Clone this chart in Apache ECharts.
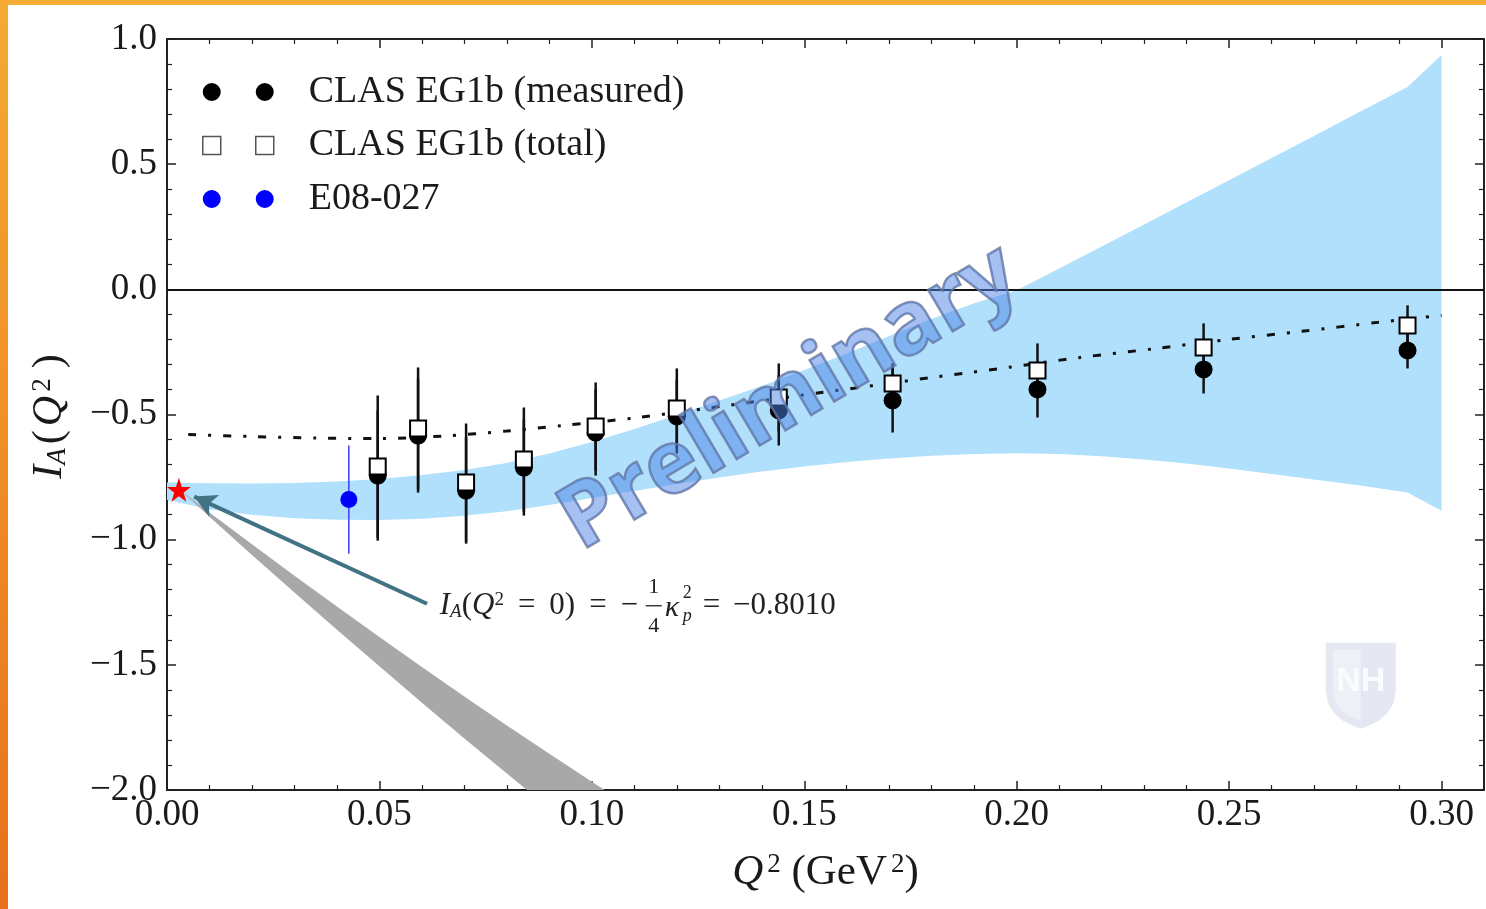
<!DOCTYPE html>
<html><head><meta charset="utf-8">
<script src="https://cdn.jsdelivr.net/npm/echarts/dist/echarts.min.js"></script>
<style>html,body{margin:0;padding:0;background:#fff;overflow:hidden}#c{width:1486px;height:909px}</style>
</head><body><div id="c"></div><script>
// ---------- data ----------
const q2 = [0.0496, 0.0591, 0.0704, 0.0840, 0.1009, 0.1200, 0.1440, 0.1708, 0.2049, 0.2440, 0.2920];
const iaMeasured = [-0.744, -0.584, -0.804, -0.712, -0.572, -0.508, -0.484, -0.444, -0.400, -0.320, -0.244];
const errMeasured = [0.260, 0.228, 0.212, 0.192, 0.172, 0.148, 0.140, 0.128, 0.112, 0.096, 0.072];
const iaTotal = [-0.708, -0.556, -0.772, -0.680, -0.548, -0.476, -0.432, -0.376, -0.324, -0.232, -0.144];
const errTotal = [0.284, 0.244, 0.236, 0.208, 0.176, 0.160, 0.136, 0.080, 0.108, 0.096, 0.080];
const e08Q2 = [0.0428];
const e08IA = [-0.840];
const e08Err = [0.216];
const photonQ2 = [0.0028];
const photonIA = [-0.801];
const theoryQ2 = [0.005, 0.020, 0.035, 0.050, 0.065, 0.080, 0.093, 0.111, 0.1285, 0.137, 0.154, 0.163, 0.180, 0.189, 0.198, 0.215, 0.233, 0.250, 0.267, 0.285, 0.300];
const theoryIA = [-0.580, -0.588, -0.594, -0.596, -0.586, -0.566, -0.544, -0.512, -0.472, -0.452, -0.412, -0.392, -0.352, -0.332, -0.312, -0.272, -0.236, -0.200, -0.168, -0.132, -0.104];
const bandQ2 = [0.000, 0.010, 0.020, 0.030, 0.040, 0.050, 0.060, 0.070, 0.080, 0.090, 0.100, 0.110, 0.120, 0.130, 0.140, 0.150, 0.160, 0.170, 0.180, 0.190, 0.200, 0.210, 0.220, 0.230, 0.240, 0.250, 0.260, 0.270, 0.280, 0.292, 0.300];
const bandLow = [-0.842, -0.878, -0.900, -0.914, -0.920, -0.921, -0.916, -0.904, -0.886, -0.862, -0.834, -0.806, -0.778, -0.752, -0.728, -0.708, -0.690, -0.676, -0.665, -0.658, -0.655, -0.658, -0.667, -0.680, -0.696, -0.716, -0.738, -0.760, -0.782, -0.812, -0.884];
const bandHigh = [-0.772, -0.775, -0.776, -0.774, -0.768, -0.758, -0.742, -0.722, -0.694, -0.656, -0.610, -0.558, -0.502, -0.444, -0.386, -0.322, -0.256, -0.186, -0.118, -0.056, -0.004, 0.083, 0.171, 0.259, 0.348, 0.436, 0.525, 0.613, 0.702, 0.808, 0.936];
const grayQ2 = [0.003, 0.010, 0.020, 0.030, 0.040, 0.050, 0.060, 0.070, 0.080, 0.090, 0.100, 0.110];
const grayLow = [-0.800, -0.908, -1.061, -1.211, -1.360, -1.506, -1.651, -1.794, -1.934, -2.073, -2.210, -2.344];
const grayHigh = [-0.800, -0.891, -1.018, -1.144, -1.267, -1.389, -1.509, -1.626, -1.742, -1.855, -1.967, -2.077];
const xTickLabels = ['0.00', '0.05', '0.10', '0.15', '0.20', '0.25', '0.30'];
const yTickLabels = ['\u22122.0', '\u22121.5', '\u22121.0', '\u22120.5', '0.0', '0.5', '1.0'];
const seriesNames = ['CLAS EG1b (measured)', 'CLAS EG1b (total)', 'E08-027'];
const arrowFrom = [0.0612, -1.256];
const arrowTo = [0.0064, -0.828];
const annotAnchor = [0.0642, -1.264];
const watermarkAnchor = [0.1466, -0.436];
const logoAnchor = [0.2810, -1.584];

// ---------- helpers ----------
const SERIF = '"Liberation Serif", "DejaVu Serif", serif';
const TXT = '#1a1a1a';
function bandItem(xs, lo, hi, color) {
  return function (params, api) {
    const pts = [];
    for (let i = 0; i < xs.length; i++) pts.push(api.coord([xs[i], hi[i]]));
    for (let i = xs.length - 1; i >= 0; i--) pts.push(api.coord([xs[i], lo[i]]));
    const cs = params.coordSys;
    return {
      type: 'polygon', shape: { points: pts }, style: { fill: color },
      clipPath: { type: 'rect', shape: { x: cs.x, y: cs.y, width: cs.width, height: cs.height } }
    };
  };
}
function errItem(color, width) {
  return function (params, api) {
    const a = api.coord([api.value(0), api.value(1)]);
    const b = api.coord([api.value(0), api.value(2)]);
    return { type: 'line', shape: { x1: a[0], y1: a[1], x2: b[0], y2: b[1] }, style: { stroke: color, lineWidth: width } };
  };
}
const errData = (xs, ys, es) => xs.map((x, i) => [x, ys[i] - es[i], ys[i] + es[i]]);
const pairs = (xs, ys) => xs.map((x, i) => [x, ys[i]]);
const STAR = 'path://M50,0 L61.8,35.1 L98.6,35.1 L68.8,57 L80.2,92 L50,70.4 L19.8,92 L31.2,57 L1.4,35.1 L38.2,35.1 Z';
const TWO_CIRCLES = 'path://M0,9A9,9,0,1,1,18,9A9,9,0,1,1,0,9Z M53,9A9,9,0,1,1,71,9A9,9,0,1,1,53,9Z';
const TWO_SQUARES = 'path://M0,0H18V18H0Z M53,0H71V18H53Z';

const axisLine = { show: true, onZero: false, lineStyle: { color: '#222', width: 2 } };
const tick = { show: true, inside: true, length: 9, lineStyle: { color: '#222', width: 1.5 } };
const minor = { show: true, splitNumber: 5, length: 5, lineStyle: { color: '#222', width: 1.2 } };
const xFmt = v => { const i = Math.round(v / 0.05); return Math.abs(v - i * 0.05) < 1e-9 ? (xTickLabels[i] || '') : ''; };
const yFmt = v => { const i = Math.round((v + 2) / 0.5); return yTickLabels[i] || ''; };

const option = {
  animation: false,
  backgroundColor: '#ffffff',
  grid: { left: 167, right: 2, top: 39, bottom: 119, outerBoundsMode: 'none', containLabel: false },
  legend: {
    orient: 'vertical', left: 197, top: 68, itemWidth: 71, itemHeight: 18, itemGap: 15.5,
    selectedMode: false,
    formatter: n => '{g|}{t|' + n + '}',
    textStyle: { rich: { g: { width: 30 }, t: { fontFamily: SERIF, fontSize: 38, color: TXT } } },
    data: [
      { name: seriesNames[0], icon: TWO_CIRCLES, itemStyle: { color: '#000', borderWidth: 0 } },
      { name: seriesNames[1], icon: TWO_SQUARES, itemStyle: { color: '#fff', borderColor: '#555', borderWidth: 1.5 } },
      { name: seriesNames[2], icon: TWO_CIRCLES, itemStyle: { color: '#0000ff', borderWidth: 0 } }
    ]
  },
  xAxis: [
    {
      type: 'value', min: 0, max: 0.31, interval: 0.05, position: 'bottom',
      axisLine, axisTick: tick, minorTick: minor, splitLine: { show: false }, minorSplitLine: { show: false },
      axisLabel: { formatter: xFmt, fontFamily: SERIF, fontSize: 37, color: TXT, margin: 7, showMaxLabel: false },
      name: '{i|Q}{p|2}{n| (GeV}{p|2}{n|)}', nameLocation: 'middle', nameGap: 61,
      nameTextStyle: { rich: {
        i: { fontFamily: SERIF, fontStyle: 'italic', fontSize: 43, color: TXT },
        n: { fontFamily: SERIF, fontSize: 43, color: TXT },
        p: { fontFamily: SERIF, fontSize: 27, color: TXT, verticalAlign: 'top', padding: [0, 0, 0, 4] }
      } }
    },
    {
      type: 'value', min: 0, max: 0.31, interval: 0.05, position: 'top',
      axisLine, axisTick: tick, minorTick: minor, splitLine: { show: false }, axisLabel: { show: false }
    }
  ],
  yAxis: [
    {
      type: 'value', min: -2, max: 1, interval: 0.5, position: 'left',
      axisLine, axisTick: tick, minorTick: minor, splitLine: { show: false }, minorSplitLine: { show: false },
      axisLabel: { formatter: yFmt, fontFamily: SERIF, fontSize: 37, color: TXT, margin: 10 },
      name: '{i|I}{s|A}{n|(}{i|Q}{p|2}{n|)}', nameLocation: 'middle', nameGap: 96, nameRotate: 90,
      nameTextStyle: { rich: {
        i: { fontFamily: SERIF, fontStyle: 'italic', fontSize: 42, color: TXT },
        n: { fontFamily: SERIF, fontSize: 42, color: TXT, padding: [0, 4, 0, 4] },
        s: { fontFamily: SERIF, fontStyle: 'italic', fontSize: 27, color: TXT, verticalAlign: 'bottom' },
        p: { fontFamily: SERIF, fontSize: 27, color: TXT, verticalAlign: 'top', padding: [0, 6, 0, 4] }
      } }
    },
    {
      type: 'value', min: -2, max: 1, interval: 0.5, position: 'right',
      axisLine, axisTick: tick, minorTick: minor, splitLine: { show: false }, axisLabel: { show: false }
    }
  ],
  series: [
    { name: 'band', type: 'custom', z: 1, silent: true, data: [[0, 0]], renderItem: bandItem(bandQ2, bandLow, bandHigh, '#b0e0fb') },
    { name: 'grayband', type: 'custom', z: 1, silent: true, data: [[0, 0]], renderItem: bandItem(grayQ2, grayLow, grayHigh, '#a8a8a8') },
    {
      name: 'theory', type: 'line', z: 3, data: pairs(theoryQ2, theoryIA), symbol: 'none', smooth: 0.3,
      lineStyle: { color: '#111', width: 3, type: [8, 12, 3, 12] },
      markLine: { silent: true, symbol: 'none', label: { show: false }, lineStyle: { color: '#111', width: 2, type: 'solid' }, data: [{ yAxis: 0 }] }
    },
    { name: 'errTotal', type: 'custom', z: 4, data: errData(q2, iaTotal, errTotal), renderItem: errItem('#111', 2.5) },
    { name: 'errMeasured', type: 'custom', z: 4, data: errData(q2, iaMeasured, errMeasured), renderItem: errItem('#111', 2.5) },
    { name: 'errE08', type: 'custom', z: 4, data: errData(e08Q2, e08IA, e08Err), renderItem: errItem('#3b3bff', 1.5) },
    { name: seriesNames[0], type: 'scatter', z: 5, data: pairs(q2, iaMeasured), symbol: 'circle', symbolSize: 18, itemStyle: { color: '#000', opacity: 1 } },
    { name: seriesNames[1], type: 'scatter', z: 6, data: pairs(q2, iaTotal), symbol: 'rect', symbolSize: 16, itemStyle: { color: '#fff', borderColor: '#000', borderWidth: 2, opacity: 1 } },
    { name: seriesNames[2], type: 'scatter', z: 6, data: pairs(e08Q2, e08IA), symbol: 'circle', symbolSize: 17, itemStyle: { color: '#0000ff', opacity: 1 } },
    {
      name: 'photon', type: 'scatter', z: 7, data: pairs(photonQ2, photonIA), symbol: STAR, symbolSize: 24, itemStyle: { color: '#ff0000', opacity: 1 },
      markLine: {
        silent: true, symbol: ['none', 'arrow'], symbolSize: [18, 22], label: { show: false },
        lineStyle: { color: '#427385', width: 4, type: 'solid' },
        data: [[{ coord: arrowFrom }, { coord: arrowTo }]]
      }
    }
  ]
};

const chart = echarts.init(document.getElementById('c'), null, { renderer: 'canvas' });
chart.setOption(option);

const P = p => chart.convertToPixel({ xAxisIndex: 0, yAxisIndex: 0 }, p);
const an = P(annotAnchor), wm = P(watermarkAnchor), lg = P(logoAnchor);
const mathRich = {
  i: { fontFamily: SERIF, fontStyle: 'italic', fontSize: 31, fill: '#222' },
  n: { fontFamily: SERIF, fontSize: 31, fill: '#222' },
  e: { fontFamily: SERIF, fontSize: 31, fill: '#222', padding: [0, 14, 0, 14] },
  s: { fontFamily: SERIF, fontStyle: 'italic', fontSize: 19, fill: '#222', verticalAlign: 'bottom' },
  p: { fontFamily: SERIF, fontSize: 19, fill: '#222', verticalAlign: 'top' }
};
const shieldOuter = [[-35, -43], [35, -43], [35, 5], [33, 17], [27, 27], [18, 35], [8, 40], [0, 43], [-8, 40], [-18, 35], [-27, 27], [-33, 17], [-35, 5]];
const shieldInner = [[-28, -36], [0, -36], [0, 35], [-10, 31], [-19, 25], [-25, 16], [-28, 5]];
chart.setOption({
  graphic: [
    { type: 'rect', silent: true, z: 100, shape: { x: 0, y: 0, width: 1486, height: 5 }, style: { fill: '#f6ad35' } },
    { type: 'rect', silent: true, z: 100, shape: { x: 0, y: 0, width: 8, height: 909 },
      style: { fill: new echarts.graphic.LinearGradient(0, 0, 0, 1, [{ offset: 0, color: '#f5aa32' }, { offset: 1, color: '#e8711c' }]) } },
    {
      type: 'group', x: an[0], y: an[1], z: 50, silent: true,
      children: [
        { type: 'text', x: 0, y: 0, style: { text: '{i|I}{s|A}{n|(}{i|Q}{p|2}{e|=}{n|0)}{e|=}{n|\u2212}', rich: mathRich, verticalAlign: 'middle', align: 'left' } },
        { type: 'text', x: 214, y: -19, style: { text: '1', font: '22px ' + SERIF, fill: '#222', align: 'center', verticalAlign: 'middle' } },
        { type: 'line', shape: { x1: 206, y1: 0, x2: 222, y2: 0 }, style: { stroke: '#222', lineWidth: 1.3 } },
        { type: 'text', x: 214, y: 20, style: { text: '4', font: '22px ' + SERIF, fill: '#222', align: 'center', verticalAlign: 'middle' } },
        { type: 'text', x: 225, y: 2, style: { text: '\u03ba', font: 'italic 30px ' + SERIF, fill: '#222', align: 'left', verticalAlign: 'middle' } },
        { type: 'text', x: 243, y: -12, style: { text: '2', font: '18px ' + SERIF, fill: '#222', align: 'left', verticalAlign: 'middle' } },
        { type: 'text', x: 243, y: 11, style: { text: 'p', font: 'italic 18px ' + SERIF, fill: '#222', align: 'left', verticalAlign: 'middle' } },
        { type: 'text', x: 263, y: 0, style: { text: '=', font: '31px ' + SERIF, fill: '#222', align: 'left', verticalAlign: 'middle' } },
        { type: 'text', x: 396, y: 0, style: { text: '\u22120.8010', font: '31px ' + SERIF, fill: '#222', align: 'right', verticalAlign: 'middle' } }
      ]
    },
    {
      type: 'group', x: lg[0], y: lg[1], z: 20, silent: true,
      children: [
        { type: 'polygon', shape: { points: shieldOuter }, style: { fill: '#e5e8f2' } },
        { type: 'polygon', shape: { points: shieldInner }, style: { fill: '#eef0f7' } },
        { type: 'text', x: 0, y: -4, style: { text: 'NH', font: 'bold 34px "Liberation Sans Narrow", "Liberation Sans", sans-serif', fill: '#fafbfd', align: 'center', verticalAlign: 'middle' } }
      ]
    },
    {
      type: 'text', x: wm[0], y: wm[1], rotation: 30.6 * Math.PI / 180, z: 200, silent: true,
      style: {
        text: 'Preliminary', font: 'bold 88px "Open Sans", "DejaVu Sans", sans-serif', align: 'center', verticalAlign: 'middle',
        fill: 'rgba(75,130,228,0.5)', stroke: 'rgba(105,115,150,0.8)', lineWidth: 2.5
      }
    }
  ]
});
</script></body></html>
